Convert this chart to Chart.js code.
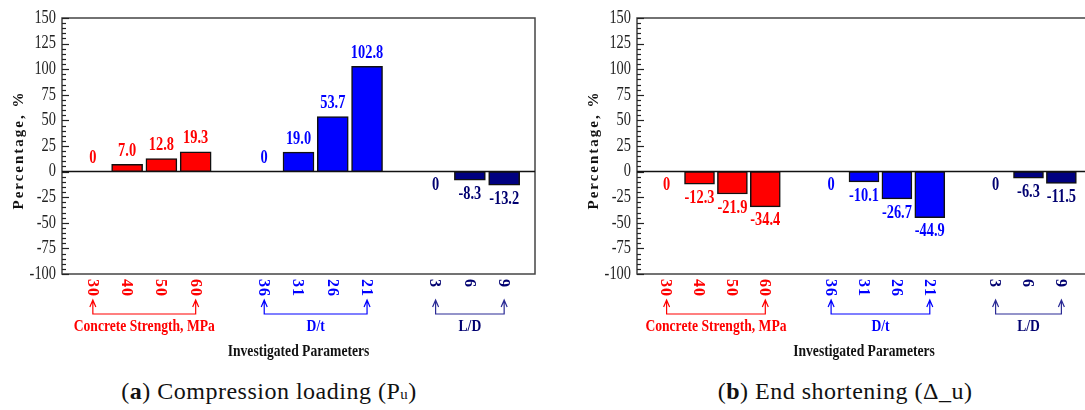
<!DOCTYPE html>
<html>
<head>
<meta charset="utf-8">
<script src="https://cdn.jsdelivr.net/npm/chart.js@4/dist/chart.umd.min.js"></script>
<style>
  html, body { margin: 0; padding: 0; background: #fff; }
  body { width: 1085px; height: 410px; position: relative; overflow: hidden; }
  canvas { position: absolute; top: 0; }
  #chartA { left: 0; }
  #chartB { left: 575px; }
  .caption {
    position: absolute; top: 378px; width: 400px; text-align: center;
    font-family: "Liberation Serif", "Times New Roman", Times, "DejaVu Serif", serif;
    font-size: 24px; color: #111;
    letter-spacing: 0.5px; white-space: nowrap;
  }
  .caption sub { font-size: 62%; vertical-align: baseline; }
</style>
</head>
<body>
<canvas id="chartA" width="545" height="365"></canvas>
<canvas id="chartB" width="526" height="365"></canvas>
<div class="caption" style="left:69px">(<b>a</b>) Compression loading (P<sub>u</sub>)</div>
<div class="caption" style="left:645px">(<b>b</b>) End shortening (Δ_u)</div>

<script>
// tick labels per parameter group
const concreteLabels = ["30", "40", "50", "60"];
const dtLabels = ["36", "31", "26", "21"];
const ldLabels = ["3", "6", "9"];
const groupNames = ["Concrete Strength, MPa", "D/t", "L/D"];
const axisTitle = "Investigated Parameters";
const yTitle = "Percentage, %";

// (a) compression loading, % change
const loadConcrete = [0, 7.0, 12.8, 19.3];
const loadDt = [0, 19.0, 53.7, 102.8];
const loadLd = [0, -8.3, -13.2];

// (b) end shortening, % change
const shortConcrete = [0, -12.3, -21.9, -34.4];
const shortDt = [0, -10.1, -26.7, -44.9];
const shortLd = [0, -6.3, -11.5];

const yMin = -100, yMax = 150, yStep = 25;

const barColors = ["#ff0000", "#0000ff", "#000080"];
const textColors = ["#ff0000", "#0000ff", "#000070"];
const bracketColors = ["#ff0000", "#0000ff", "#2a2a95"];
const SERIF = "'Liberation Serif', 'Times New Roman', Times, 'DejaVu Serif', serif";
const SX = 0.8; // the figure is squeezed horizontally

function squeezedText(ctx, txt, x, y, font, color, align, baseline) {
  ctx.save();
  ctx.translate(x, y);
  ctx.scale(SX, 1);
  ctx.font = font;
  ctx.fillStyle = color;
  ctx.textAlign = align;
  ctx.textBaseline = baseline;
  ctx.fillText(txt, 0, 0);
  ctx.restore();
}

// slot index for each bar: groups are separated by one empty slot
function slotsFor(groups) {
  const out = [];
  let pos = 1;
  groups.forEach((g) => {
    out.push(g.map((_, i) => pos + i));
    pos += g.length + 1;
  });
  return out;
}

const figurePlugin = {
  id: "figure",
  beforeDatasetsDraw(chart) {
    const { ctx, chartArea: a, scales } = chart;
    const y = scales.y;
    ctx.save();
    // frame
    ctx.strokeStyle = "#444";
    ctx.lineWidth = 1.5;
    ctx.strokeRect(a.left, a.top, a.right - a.left, a.bottom - a.top);
    // inward tick marks
    ctx.strokeStyle = "#222";
    ctx.lineWidth = 1.2;
    for (let v = yMin; v <= yMax; v += 5) {
      const py = Math.round(y.getPixelForValue(v)) + 0.5;
      const len = v % yStep === 0 ? 7 : 4;
      ctx.beginPath();
      ctx.moveTo(a.left, py);
      ctx.lineTo(a.left + len, py);
      ctx.stroke();
    }
    // zero line
    const z = y.getPixelForValue(0);
    ctx.strokeStyle = "#111";
    ctx.lineWidth = 1.5;
    ctx.beginPath();
    ctx.moveTo(a.left, z);
    ctx.lineTo(a.right, z);
    ctx.stroke();
    ctx.restore();

    // y tick labels
    y.ticks.forEach((t) => {
      squeezedText(ctx, String(t.value), a.left - 6, y.getPixelForValue(t.value),
        "18px " + SERIF, "#222", "right", "middle");
    });

    // y title
    ctx.save();
    ctx.translate(19, (a.top + a.bottom) / 2 + 4);
    ctx.rotate(-Math.PI / 2);
    ctx.font = "bold 15px " + SERIF;
    ctx.letterSpacing = "2px";
    ctx.fillStyle = "#111";
    ctx.textAlign = "center";
    ctx.textBaseline = "middle";
    ctx.fillText(yTitle, 0, 0);
    ctx.restore();
  },
  afterDatasetsDraw(chart, args, opts) {
    const { ctx, chartArea: a, scales } = chart;
    const x = scales.x;
    const groupTicks = opts.tickLabels;

    chart.data.datasets.forEach((ds, di) => {
      const meta = chart.getDatasetMeta(di);
      const dir = ds.data.some((p) => p.y < 0) ? -1 : 1;
      // value labels
      meta.data.forEach((bar, i) => {
        const v = ds.data[i].y;
        const txt = v === 0 ? "0" : v.toFixed(1);
        const up = v > 0 || (v === 0 && dir > 0);
        squeezedText(ctx, txt, bar.x, up ? bar.y - 4 : bar.y + 5,
          "bold 18px " + SERIF, textColors[di], "center", up ? "bottom" : "top");
      });

      // rotated category labels
      const xs = ds.data.map((p) => x.getPixelForValue(p.x));
      groupTicks[di].forEach((lab, i) => {
        ctx.save();
        ctx.translate(xs[i] - 1, a.bottom + 5);
        ctx.rotate(Math.PI / 2);
        ctx.font = "bold 16px " + SERIF;
        ctx.letterSpacing = "1px";
        ctx.fillStyle = textColors[di];
        ctx.textAlign = "left";
        ctx.textBaseline = "middle";
        ctx.fillText(lab, 0, 0);
        ctx.restore();
      });

      // bracket with arrows
      const x1 = xs[0], x2 = xs[xs.length - 1];
      const tipY = a.bottom + 26, lineY = a.bottom + 40;
      ctx.save();
      ctx.strokeStyle = bracketColors[di];
      ctx.lineWidth = 1.2;
      ctx.beginPath();
      ctx.moveTo(x1, tipY);
      ctx.lineTo(x1, lineY);
      ctx.lineTo(x2, lineY);
      ctx.lineTo(x2, tipY);
      [x1, x2].forEach((px) => {
        ctx.moveTo(px - 3, tipY + 7);
        ctx.lineTo(px, tipY);
        ctx.lineTo(px + 3, tipY + 7);
      });
      ctx.stroke();
      ctx.restore();

      squeezedText(ctx, groupNames[di], (x1 + x2) / 2, a.bottom + 53,
        "bold 17px " + SERIF, textColors[di], "center", "middle");
    });

    squeezedText(ctx, axisTitle, (a.left + a.right) / 2, a.bottom + 78,
      "bold 17px " + SERIF, "#111", "center", "middle");
  },
};

function makeChart(id, groups, thickness) {
  const slots = slotsFor(groups);
  const datasets = groups.map((vals, gi) => ({
    data: vals.map((v, i) => ({ x: slots[gi][i], y: v })),
    backgroundColor: barColors[gi],
    borderColor: "#111",
    borderWidth: 1.5,
    borderSkipped: false,
    barThickness: thickness,
  }));

  return new Chart(document.getElementById(id), {
    type: "bar",
    data: { datasets },
    options: {
      responsive: false,
      animation: false,
      devicePixelRatio: 1,
      grouped: false,
      layout: { padding: { left: 0, top: 18, right: 10, bottom: 91 } },
      plugins: {
        legend: { display: false },
        tooltip: { enabled: false },
        figure: { tickLabels: [concreteLabels, dtLabels, ldLabels] },
      },
      scales: {
        x: { type: "linear", min: 0.1, max: 13.9, offset: false, display: false },
        y: {
          min: yMin,
          max: yMax,
          ticks: { stepSize: yStep, display: false },
          grid: { display: false },
          border: { display: false },
          afterFit: (s) => { s.width = 62; },
        },
      },
    },
    plugins: [figurePlugin],
  });
}

makeChart("chartA", [loadConcrete, loadDt, loadLd], 31);
makeChart("chartB", [shortConcrete, shortDt, shortLd], 30);
</script>
</body>
</html>
